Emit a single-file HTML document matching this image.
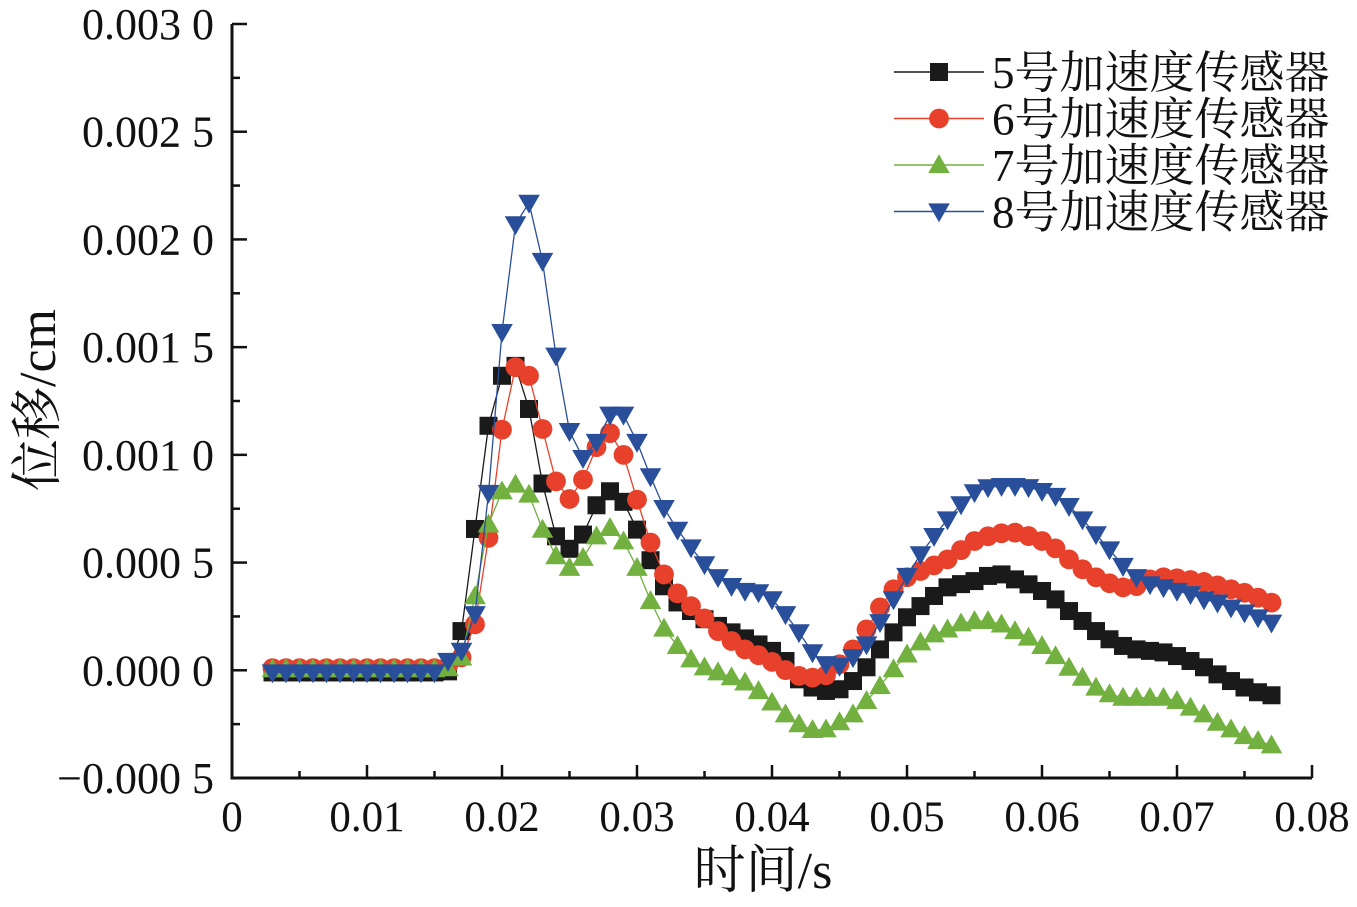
<!DOCTYPE html>
<html><head><meta charset="utf-8"><style>
html,body{margin:0;padding:0;background:#fff;}
svg text{font-family:"Liberation Serif","Noto Serif CJK SC",serif;fill:#111;}
</style></head><body>
<svg id="chart" width="1357" height="902" viewBox="0 0 1357 902" xmlns="http://www.w3.org/2000/svg">
<g id="axes"></g>
<g id="series"></g>
<g id="legend"></g>
<text transform="translate(55,400) rotate(-90)" text-anchor="middle" font-size="52">位移/cm</text>
<text x="763" y="888" text-anchor="middle" font-size="52">时间/s</text>
</svg>
<script>
const times = [];
for (let i = 0; i < 75; i++) times.push(0.003 + 0.001 * i);
const zeros13 = (v) => Array(13).fill(v);
const s5 = zeros13(-0.1).concat([-0.05,1.82,6.56,11.35,13.67,14.13,12.13,8.67,6.22,5.64,6.30,7.66,8.31,7.82,6.53,5.11,3.9,3.15,2.75,2.37,2.06,1.76,1.48,1.2,0.9,0.43,-0.42,-0.8,-0.96,-0.88,-0.5,0.14,0.97,1.76,2.46,2.98,3.45,3.85,4.0,4.14,4.38,4.45,4.22,3.99,3.68,3.29,2.75,2.29,1.82,1.44,1.13,0.97,0.9,0.83,0.66,0.43,0.14,-0.19,-0.5,-0.8,-1.02,-1.16]);
const s6 = zeros13(0.1).concat([0.2,0.6,2.13,6.15,11.17,14.07,13.67,11.2,8.77,7.95,8.85,10.36,11.01,10.0,7.92,5.93,4.45,3.57,2.98,2.41,1.82,1.36,0.97,0.7,0.39,0.01,-0.26,-0.34,-0.23,0.28,0.97,1.9,2.92,3.76,4.32,4.61,4.87,5.15,5.58,6.0,6.22,6.36,6.39,6.23,6.0,5.66,5.15,4.69,4.32,4.04,3.85,3.91,4.22,4.32,4.27,4.19,4.1,3.94,3.76,3.6,3.37,3.14]);
const s7 = zeros13(0.05).concat([0.1,0.6,3.44,6.77,8.31,8.62,8.16,6.53,5.3,4.76,5.22,6.22,6.61,5.99,4.76,3.22,1.94,1.13,0.51,0.14,-0.09,-0.32,-0.56,-0.96,-1.49,-2.04,-2.5,-2.77,-2.74,-2.41,-2.04,-1.42,-0.73,0.05,0.74,1.3,1.67,1.9,2.18,2.29,2.29,2.13,1.82,1.52,1.13,0.66,0.12,-0.34,-0.8,-1.11,-1.27,-1.27,-1.27,-1.27,-1.42,-1.73,-2.04,-2.43,-2.74,-3.05,-3.28,-3.48]);
const s8 = zeros13(-0.1).concat([0.43,0.9,2.6,8.23,15.7,20.7,21.7,19.0,14.6,11.1,9.85,10.6,11.86,11.86,10.6,9.0,7.53,6.52,5.7,4.92,4.32,3.91,3.68,3.62,3.29,2.6,1.76,0.83,0.28,0.2,0.6,1.2,2.23,3.29,4.38,5.38,6.23,7.0,7.7,8.26,8.49,8.55,8.55,8.5,8.32,8.09,7.62,7.0,6.31,5.61,4.84,4.32,3.99,3.85,3.68,3.53,3.29,3.14,2.91,2.68,2.45,2.21]);
const seriesNames = ["5号加速度传感器","6号加速度传感器","7号加速度传感器","8号加速度传感器"];
const xTicks = [0,0.01,0.02,0.03,0.04,0.05,0.06,0.07,0.08];
const xTickLabels = ["0","0.01","0.02","0.03","0.04","0.05","0.06","0.07","0.08"];
const yTicks = [-0.0005,0,0.0005,0.001,0.0015,0.002,0.0025,0.003];
const yTickLabels = ["\u22120.000 5","0.000 0","0.000 5","0.001 0","0.001 5","0.002 0","0.002 5","0.003 0"];

const NS = "http://www.w3.org/2000/svg";
const X0 = 232, X1 = 1312, Y0 = 778, Y1 = 24;
const xs = v => X0 + (v - 0) / 0.08 * (X1 - X0);
const ys = v => Y0 - (v + 0.0005) / 0.0035 * (Y0 - Y1);
function mk(tag, attrs, parent) { const e = document.createElementNS(NS, tag); for (const k in attrs) e.setAttribute(k, attrs[k]); parent.appendChild(e); return e; }

const axes = document.getElementById('axes');
let el = mk('line', {x1:X0, y1:Y1, x2:X0, y2:Y0+1.5, stroke:'#111', 'stroke-width':3}, axes);


el = mk('line', {x1:X0-1.5, y1:Y0, x2:X1, y2:Y0, stroke:'#111', 'stroke-width':3}, axes);


xTicks.forEach((t, i) => {
  const x = xs(t);
  const tk = mk('line', {x1:x, y1:Y0, x2:x, y2:Y0-13, stroke:'#111', 'stroke-width':2.5}, axes);
  
  
  if (i < xTicks.length - 1) {
    const m = mk('line', {x1:xs(t+0.005), y1:Y0, x2:xs(t+0.005), y2:Y0-7, stroke:'#111', 'stroke-width':2.5}, axes);
    
    
  }
  const lb = mk('text', {x:x, y:831, 'text-anchor':'middle', 'font-size':43}, axes);
  lb.textContent = xTickLabels[i];
  
  
});
yTicks.forEach((v, i) => {
  const y = ys(v);
  const tk = mk('line', {x1:X0, y1:y, x2:X0+15, y2:y, stroke:'#111', 'stroke-width':2.5}, axes);
  
  
  if (i < yTicks.length - 1) {
    const m = mk('line', {x1:X0, y1:ys(v+0.00025), x2:X0+8, y2:ys(v+0.00025), stroke:'#111', 'stroke-width':2.5}, axes);
    
    
  }
  const lb = mk('text', {x:214, y:y+15, 'text-anchor':'end', 'font-size':44}, axes);
  lb.textContent = yTickLabels[i];
  
  
});

const colors = ['#1a1a1a','#e8412b','#72b040','#2a4f9a'];
const shapes = ['square','circle','triangle','dtriangle'];
function marker(g, shape, cx, cy, color, s) {
  let e;
  if (shape === 'square') e = mk('rect', {x:cx-s*0.5, y:cy-s*0.5, width:s, height:s, fill:color}, g);
  else if (shape === 'circle') e = mk('circle', {cx:cx, cy:cy, r:s*0.55, fill:color}, g);
  else if (shape === 'triangle') e = mk('polygon', {points:`${cx-s*0.6},${cy+s*0.45} ${cx+s*0.6},${cy+s*0.45} ${cx},${cy-s*0.6}`, fill:color}, g);
  else e = mk('polygon', {points:`${cx-s*0.6},${cy-s*0.45} ${cx+s*0.6},${cy-s*0.45} ${cx},${cy+s*0.6}`, fill:color}, g);
  return e;
}
const seriesG = document.getElementById('series');
[s5, s6, s7, s8].forEach((data, si) => {
  const g = mk('g', {}, seriesG);
  
  
  const pts = data.map((v, i) => `${xs(times[i]).toFixed(1)},${ys(v * 1e-4).toFixed(1)}`).join(' ');
  const ln = mk('polyline', {points:pts, fill:'none', stroke:colors[si], 'stroke-width':1.3}, g);
  
  
  data.forEach((v, i) => {
    const m = marker(g, shapes[si], xs(times[i]), ys(v * 1e-4), colors[si], 18);
    
    
  });
});

const legend = document.getElementById('legend');
seriesNames.forEach((name, i) => {
  const cy = 72 + i * 46.5;
  const g = mk('g', {}, legend);
  
  
  const l = mk('line', {x1:894, y1:cy, x2:984, y2:cy, stroke:colors[i], 'stroke-width':1.5}, g);
  
  
  const m = marker(g, shapes[i], 939, cy, colors[i], 18);
  
  
  const t = mk('text', {x:992, y:cy+16, 'font-size':45}, g);
  t.textContent = name;
  
  
});
</script>
</body></html>
